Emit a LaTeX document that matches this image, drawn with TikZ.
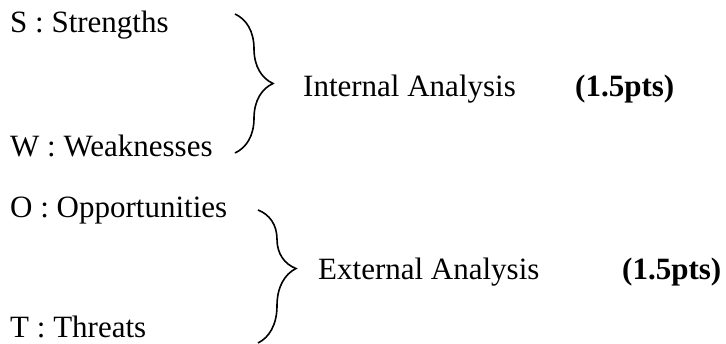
\documentclass[tikz,border=0pt]{standalone}
\usepackage{fontspec}
\setmainfont{Liberation Serif}
\usetikzlibrary{decorations.pathreplacing,positioning}

\begin{document}
\begin{tikzpicture}[x=1pt, y=-1pt,
  lbl/.style={anchor=base west, inner sep=0pt, font=\fontsize{31}{37}\selectfont},
  pts/.style={lbl, font=\fontsize{31}{37}\selectfont\bfseries},
  brc/.style={decorate, decoration={brace, amplitude=38pt, aspect=#1},
              line width=1.6pt}
]
  \useasboundingbox (0,0) rectangle (726,344);

  % items
  \node[lbl] (S) at (10,33)  {S : Strengths};
  \node[lbl] (W) at (10,157) {W : Weaknesses};
  \node[lbl] (O) at (10,218) {O : Opportunities};
  \node[lbl] (T) at (10,338) {T : Threats};

  % brace ends
  \coordinate (b1t) at (235,14);
  \coordinate (b1b) at (235,153);
  \coordinate (b2t) at (258,210);
  \coordinate (b2b) at (258,343);

  \draw[brc=0.5]  (b1t) -- (b1b);
  \draw[brc=0.44] (b2t) -- (b2b);

  % groups
  \node[lbl] (int)    at (303,97)  {Internal Analysis};
  \node[pts] (intpts) at (575,97)  {(1.5pts)};
  \node[lbl] (ext)    at (318,280) {External Analysis};
  \node[pts] (extpts) at (622,280) {(1.5pts)};
\end{tikzpicture}
\end{document}
